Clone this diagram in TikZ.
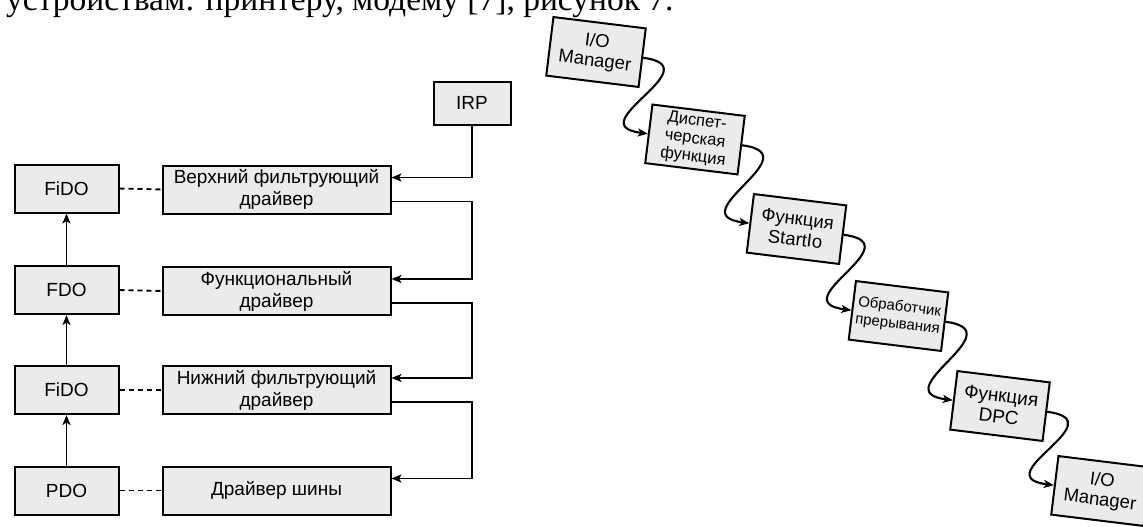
\documentclass[tikz,border=0pt]{standalone}
\usepackage{fontspec}
\setmainfont{Liberation Sans}
\newfontfamily\bodyserif{Liberation Serif}
\usetikzlibrary{arrows.meta,backgrounds}
\definecolor{boxgray}{gray}{0.92}
\definecolor{shadowgray}{gray}{0.55}
\newcommand{\fs}[2]{\fontsize{#1}{#2}\selectfont}

\begin{document}
\begin{tikzpicture}[x=1pt,y=-1pt,
  box/.style={draw=black, line width=2pt, fill=boxgray, inner sep=2pt, align=center},
  lbox/.style={box, minimum width=104pt, minimum height=48pt, font=\fs{19}{22}},
  dbox/.style={box, minimum width=228pt, minimum height=48pt, font=\fs{19}{22}},
  rbox/.style={box, rotate=-7, minimum width=93pt, minimum height=59pt},
  conn/.style={line width=1.9pt, -{Stealth[length=10pt,width=8pt,inset=2.5pt]}},
  dashline/.style={line width=1.9pt, dash pattern=on 5pt off 4pt},
  curve/.style={line width=2.1pt, -{Stealth[length=10pt,width=8pt,inset=2.5pt]}},
  shadowfill/.style={fill=shadowgray, draw=none}
]
\clip (0,0) rectangle (1143,527);
\fill[white] (0,0) rectangle (1143,527);

% running text line above the figures
\node[anchor=base west, inner sep=0pt, font=\bodyserif\fs{33.5}{40}] (caption) at (6,10.5)
  {устройствам: принтеру, модему [7], рисунок 7.};

% ---- driver stack ----
\node[lbox] (fido1) at (66.5,188.5) {FiDO};
\node[lbox] (fdo)   at (66.5,290)   {FDO};
\node[lbox] (fido2) at (66.5,390)   {FiDO};
\node[lbox] (pdo)   at (66.5,490.5) {PDO};

\node[dbox] (upper) at (276.5,189.5) {Верхний фильтрующий\\драйвер};
\node[dbox] (func)  at (276.5,291)   {Функциональный\\драйвер};
\node[dbox] (lower) at (276.5,390)   {Нижний фильтрующий\\драйвер};
\node[dbox] (bus)   at (276.5,490.5) {Драйвер шины};

\node[box, minimum width=77pt, minimum height=43pt, font=\fs{19}{22}] (irp) at (472,103) {IRP};

% device objects linked upwards
\draw[conn] (pdo.north) -- (fido2.south);
\draw[conn] (fido2.north) -- (fdo.south);
\draw[conn] (fdo.north) -- (fido1.south);

% device objects tied to their drivers
\draw[dashline] (fido1.east) -- (upper.west);
\draw[dashline] (fdo.east) -- (func.west);
\draw[dashline] (fido2.east) -- (lower.west);
\draw[dashline] (pdo.east) -- (bus.west);

% IRP passed down the stack
\coordinate (trunk) at (irp.south);
\foreach \n in {upper,func,lower,bus} {
  \coordinate (\n-in)  at ([yshift=12pt]\n.east);
  \coordinate (\n-out) at ([yshift=-12pt]\n.east);
}
\draw[conn] (irp.south) |- (upper-in);
\draw[conn] (upper-out) -- (upper-out -| trunk) |- (func-in);
\draw[conn] (func-out) -- (func-out -| trunk) |- (lower-in);
\draw[conn] (lower-out) -- (lower-out -| trunk) |- (bus-in);

% ---- processing chain ----
\node[rbox, font=\fs{18.5}{19.5}] (m1) at (596,52)    {I/O\\Manager};
\node[rbox, font=\fs{16.5}{18}]   (m2) at (695,139.5) {Диспет-\\черская\\функция};
\node[rbox, font=\fs{18.5}{20.5}] (m3) at (796.5,229) {Функция\\StartIo};
\node[rbox, font=\fs{15}{17.5}]   (m4) at (898.5,316) {Обработчик\\прерывания};
\node[rbox, font=\fs{19}{21}]     (m5) at (1000,406)  {Функция\\DPC};
\node[rbox, font=\fs{18.5}{19.5}] (m6) at (1101,491)  {I/O\\Manager};

\foreach \a/\b in {m1/m2, m2/m3, m3/m4, m4/m5, m5/m6}
  \draw[curve] (\a.east) .. controls +(70,9) and +(-70,-9) .. (\b.west);

% drop shadows behind all boxes
\begin{pgfonlayer}{background}
\foreach \n in {fido1,fdo,fido2,pdo,upper,func,lower,bus,irp,m1,m2,m3,m4,m5,m6}
  \fill[shadowfill] ([shift={(3,3)}]\n.north west) -- ([shift={(3,3)}]\n.north east)
    -- ([shift={(3,3)}]\n.south east) -- ([shift={(3,3)}]\n.south west) -- cycle;
\end{pgfonlayer}
\end{tikzpicture}
\end{document}
